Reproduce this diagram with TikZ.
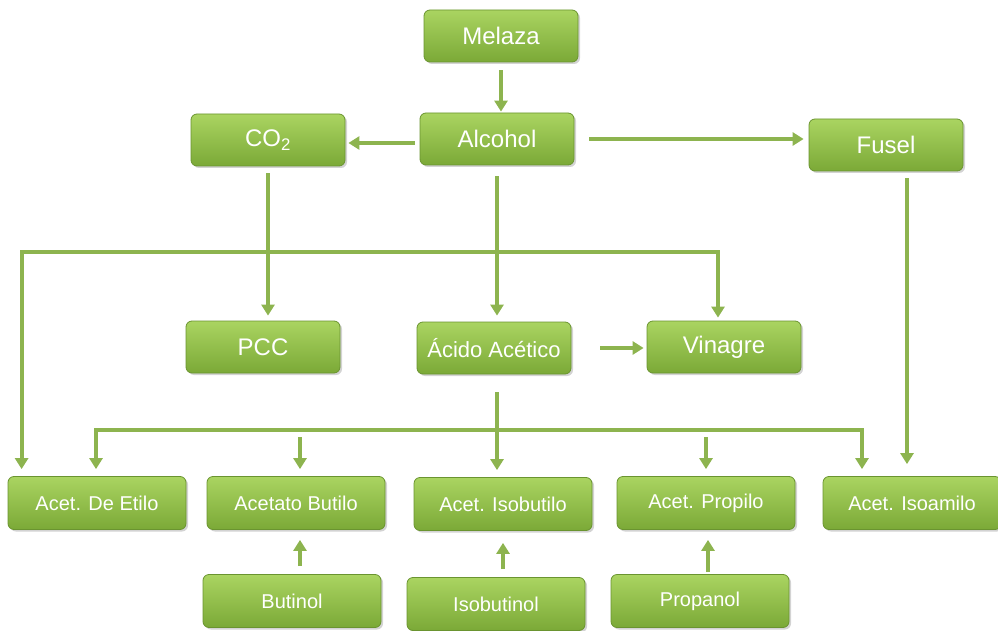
\documentclass[tikz,border=0pt]{standalone}
\usepackage{fontspec}
\setmainfont{Liberation Sans}
\usetikzlibrary{arrows.meta,shadows}
\definecolor{verde}{HTML}{8DB44F}
\definecolor{verdeclaro}{HTML}{AAD461}
\definecolor{verdemedio}{HTML}{93C04A}
\definecolor{verdeosc}{HTML}{7BA937}
\definecolor{borde}{HTML}{6A9430}
\tikzset{
  caja/.style={rectangle,rounded corners=6,draw=borde,line width=0.8,
    top color=verdeclaro,middle color=verdemedio,bottom color=verdeosc,
    text=white,minimum width=154,minimum height=52,
    drop shadow={opacity=0.35,shadow xshift=2pt,shadow yshift=-2pt}},
  ancha/.style={minimum width=178,minimum height=53},
  grande/.style={font=\fontsize{24}{28}\selectfont},
  media/.style={font=\fontsize{22}{26}\selectfont},
  chica/.style={font=\fontsize{20}{24}\selectfont},
  flecha/.style={draw=verde,line width=4,-{Triangle[width=13pt,length=11pt]},shorten >=5}
}
\begin{document}
\begin{tikzpicture}[x=1pt,y=-1pt]
\useasboundingbox(0,0)rectangle(998,631);
\node[caja,grande](melaza)at(501,36){Melaza};
\node[caja,grande](alcohol)at(497,139){Alcohol};
\node[caja,grande](co2)at(268,140){CO\textsubscript{2}};
\node[caja,grande](fusel)at(886,145){Fusel};
\node[caja,grande](pcc)at(263,347){PCC};
\node[caja,media](acido)at(494,348){Ácido Acético};
\node[caja,grande](vinagre)at(724,347){Vinagre};
\foreach \n/\x/\y/\t in {etilo/97/503/Acet. De Etilo,butilo/296/503/Acetato Butilo,isobutilo/503/504/Acet. Isobutilo,propilo/706/503/Acet. Propilo,isoamilo/912/503/Acet. Isoamilo,butinol/292/601/Butinol,isobutinol/496/604/Isobutinol,propanol/700/601/Propanol}
  {\node[caja,ancha,chica](\n)at(\x,\y){\t};}
% primer nivel
\draw[flecha,shorten <=8,shorten >=1](melaza.south)--(melaza.south|-alcohol.north);
\draw[flecha,shorten <=5,shorten >=3]([yshift=-4]alcohol.west)--([yshift=-4]alcohol.west-|co2.east);
\draw[flecha,shorten <=15](alcohol.east)--(alcohol.east-|fusel.west);
\draw[flecha,shorten <=7](co2.south)--(co2.south|-pcc.north);
\draw[flecha,shorten <=11,shorten >=6](alcohol.south)--(alcohol.south|-acido.north);
\coordinate(r1)at(497,252);
\draw[flecha,shorten >=7](r1)-|([xshift=14]etilo.north west);
\draw[flecha,shorten >=3](r1)-|([xshift=-6]vinagre.north);
\draw[flecha,shorten <=29,shorten >=3](acido.east)--(acido.east-|vinagre.west);
% esteres
\draw[flecha,shorten <=18,shorten >=7]([xshift=3]acido.south)--([xshift=3]acido.south|-isobutilo.north);
\coordinate(r2)at(497,430);
\draw[flecha,shorten >=7](r2)-|([xshift=-1]etilo.north);
\draw[flecha,shorten >=7](r2)-|([xshift=-50]isoamilo.north);
\draw[flecha,shorten <=7,shorten >=7]([xshift=4]butilo.north|-r2)--([xshift=4]butilo.north);
\draw[flecha,shorten <=7,shorten >=7](propilo.north|-r2)--(propilo.north);
\draw[flecha,shorten <=7,shorten >=12]([xshift=21]fusel.south)--([xshift=21]fusel.south|-isoamilo.north);
% alcoholes
\draw[flecha,shorten <=8,shorten >=10]([xshift=4]butilo.south|-butinol.north)--([xshift=4]butilo.south);
\draw[flecha,shorten <=8,shorten >=12](isobutilo.south|-isobutinol.north)--(isobutilo.south);
\draw[flecha,shorten <=2,shorten >=10]([xshift=2]propilo.south|-propanol.north)--([xshift=2]propilo.south);
\end{tikzpicture}
\end{document}
